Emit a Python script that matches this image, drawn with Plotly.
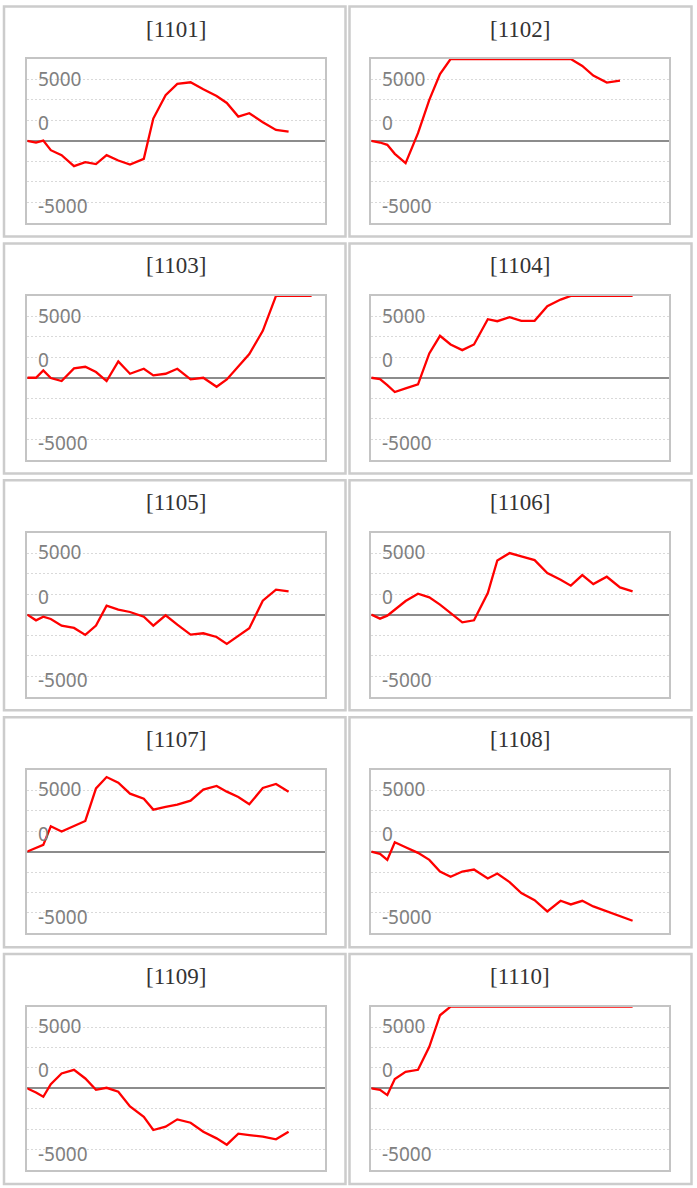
import plotly.graph_objects as go

# ---------------- data ----------------
# time positions of the samples (shared by all panels)
t = [0, 8.7, 16, 23.5, 34.3, 46.7, 58, 68.7, 79.3, 91, 102.7, 116.5, 126,
     138.3, 150, 163.3, 176, 189.3, 199.5, 211, 222, 235.5, 248.7, 261.3,
     272.8, 284.3]

codes = ["1101", "1102", "1103", "1104", "1105",
         "1106", "1107", "1108", "1109", "1110"]

# values at the top of the scale are shown pinned to the chart edge (6667)
s1101 = [0, -136, 27, -759, -1165, -2060, -1734, -1897, -1165, -1599, -1924,
         -1463, 1816, 3713, 4634, 4770, 4200, 3659, 3089, 1978, 2249, 1518,
         894, 759]
s1102 = [0, -135, -325, -1057, -1816, 623, 3333, 5447, 6667, 6667, 6667,
         6667, 6667, 6667, 6667, 6667, 6667, 6667, 6667, 6098, 5312, 4743,
         4905]
s1103 = [0, 0, 596, -27, -271, 759, 894, 461, -271, 1328, 325, 732, 190,
         325, 732, -136, 0, -732, -136, 894, 1924, 3821, 6667, 6667, 6667,
         6667]
s1104 = [0, -108, -600, -1165, -867, -542, 1978, 3415, 2710, 2249, 2710,
         4770, 4607, 4932, 4634, 4634, 5827, 6369, 6667, 6667, 6667, 6667,
         6667, 6667]
s1105 = [0, -461, -163, -352, -894, -1084, -1653, -894, 732, 407, 217, -163,
         -894, -54, -813, -1626, -1518, -1816, -2385, -1762, -1111, 1138,
         2033, 1897]
s1106 = [0, -325, -81, 407, 1111, 1707, 1409, 813, 136, -623, -461, 1762,
         4417, 5014, 4743, 4444, 3388, 2846, 2358, 3225, 2493, 3089, 2222,
         1897]
s1107 = [0, 271, 542, 2060, 1626, 2087, 2493, 5149, 6070, 5610, 4715, 4309,
         3415, 3631, 3821, 4146, 5041, 5339, 4878, 4444, 3848, 5176, 5501,
         4878]
s1108 = [0, -190, -678, 759, 352, -108, -678, -1626, -2060, -1626, -1463,
         -2195, -1789, -2493, -3388, -3957, -4878, -4011, -4309, -4011, -4472,
         -4878, -5257, -5637]
s1109 = [0, -325, -678, 352, 1220, 1518, 813, -108, 54, -271, -1463, -2304,
         -3388, -3117, -2520, -2791, -3523, -4065, -4580, -3686, -3794, -3930,
         -4146, -3523]
s1110 = [0, -108, -542, 759, 1355, 1518, 3388, 5962, 6667, 6667, 6667, 6667,
         6667, 6667, 6667, 6667, 6667, 6667, 6667, 6667, 6667, 6667, 6667,
         6667]

series = [s1101, s1102, s1103, s1104, s1105,
          s1106, s1107, s1108, s1109, s1110]

y_min, y_max = -6667, 6667
grid_values = [-5000, -3333, -1667, 1667, 3333, 5000]
tick_labels = ["5000", "0", "-5000"]

# ---------------- layout geometry ----------------
W, H = 697, 1188
col_left = [27.3, 371.3]
plot_w = 297.7
row_top0 = 59.0
row_pitch = 236.9
plot_h = 163.7
box_x = [(4, 345.5), (349.5, 691.5)]
label_y = [5065, 1463, -5317]

fig = go.Figure()
layout = dict(width=W, height=H, margin=dict(l=0, r=0, t=0, b=0),
              paper_bgcolor="white", plot_bgcolor="white", showlegend=False,
              annotations=[], shapes=[])

for i, (code, vals) in enumerate(zip(codes, series)):
    r, c = divmod(i, 2)
    left = col_left[c]
    top = row_top0 + r * row_pitch
    n = i + 1
    xa = "x" if n == 1 else f"x{n}"
    ya = "y" if n == 1 else f"y{n}"
    xk = "xaxis" if n == 1 else f"xaxis{n}"
    yk = "yaxis" if n == 1 else f"yaxis{n}"

    fig.add_trace(go.Scatter(x=t[:len(vals)], y=vals, mode="lines",
                             line=dict(color="#ff0000", width=2.3),
                             xaxis=xa, yaxis=ya, hoverinfo="skip"))

    layout[xk] = dict(domain=[left / W, (left + plot_w) / W],
                      range=[0, plot_w], anchor=ya,
                      showgrid=False, zeroline=False, showticklabels=False,
                      ticks="", showline=True, mirror=True,
                      linecolor="#c4c4c4", linewidth=2, fixedrange=True)
    layout[yk] = dict(domain=[1 - (top + plot_h) / H, 1 - top / H],
                      range=[y_min, y_max], anchor=xa,
                      tickmode="array", tickvals=grid_values,
                      showticklabels=False, ticks="",
                      showgrid=True, gridcolor="#d9d9d9", gridwidth=1,
                      griddash="2px,2px",
                      zeroline=True, zerolinecolor="#8c8c8c", zerolinewidth=2,
                      showline=True, mirror=True,
                      linecolor="#c4c4c4", linewidth=2, fixedrange=True)

    # panel frame
    bx0, bx1 = box_x[c]
    layout["shapes"].append(dict(type="rect", xref="paper", yref="paper",
                                 x0=bx0 / W, x1=bx1 / W,
                                 y0=1 - (top + 177.5) / H,
                                 y1=1 - (top - 52.5) / H,
                                 line=dict(color="#cccccc", width=2.5),
                                 fillcolor="rgba(0,0,0,0)", layer="below"))
    # panel title
    layout["annotations"].append(dict(
        text=f"[{code}]", xref="paper", yref="paper",
        x=(left + plot_w / 2) / W, y=1 - (top - 30) / H,
        xanchor="center", yanchor="middle", showarrow=False,
        font=dict(family="Liberation Serif", size=23, color="#333333")))
    # axis value labels
    for lab, ly in zip(tick_labels, label_y):
        layout["annotations"].append(dict(
            text=lab, xref=f"{xa} domain", yref=ya, x=0, y=ly,
            xshift=8.5, xanchor="left", yanchor="middle", showarrow=False,
            font=dict(family="Noto Sans", size=19, color="#808080")))

fig.update_layout(**layout)
fig.write_html("out.html", config={"displayModeBar": False},
               post_script="document.body.style.margin='0';")
